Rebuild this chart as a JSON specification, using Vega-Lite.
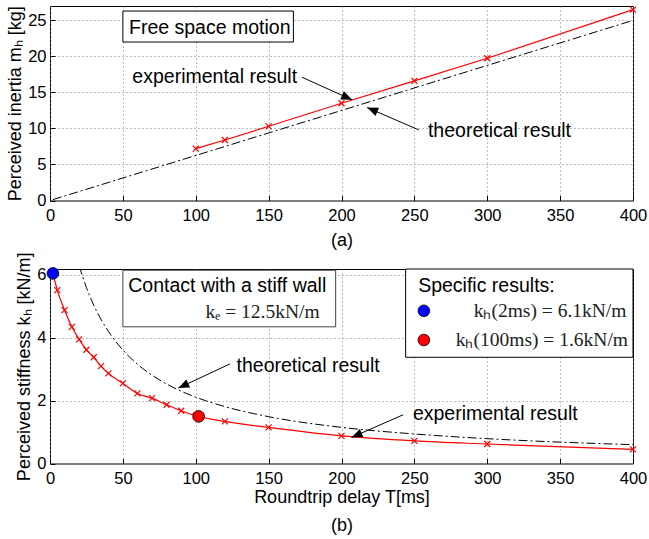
{
  "$schema": "https://vega.github.io/schema/vega-lite/v6.json",
  "background": "white",
  "padding": {"left": 6, "top": 3, "right": 10, "bottom": 4},
  "config": {
    "font": "Liberation Sans",
    "view": {"stroke": "black", "strokeWidth": 1},
    "axis": {
      "domain": false,
      "grid": true,
      "gridColor": "#7a7a7a",
      "gridDash": [1, 3],
      "gridWidth": 1,
      "gridOpacity": 1,
      "ticks": true,
      "tickSize": -5,
      "tickColor": "black",
      "labelFont": "Liberation Sans",
      "labelFontSize": 16.5,
      "labelColor": "black",
      "labelOverlap": false,
      "labelFlush": false,
      "titleFont": "Liberation Sans",
      "titleFontSize": 18,
      "titleFontWeight": "normal",
      "titleColor": "black"
    },
    "axisX": {"labelPadding": 12},
    "axisY": {"labelPadding": 9},
    "concat": {"spacing": 1}
  },
  "datasets": {
    "boxA": [{"x": 50, "x2": 167, "y": 22, "y2": 26.3}],
    "inertiaTheo": [{"x": 2, "y": 0.125}, {"x": 400, "y": 25}],
    "inertiaExp": [
      {"x": 100, "y": 7.2}, {"x": 120, "y": 8.4}, {"x": 150, "y": 10.3},
      {"x": 200, "y": 13.5}, {"x": 250, "y": 16.6}, {"x": 300, "y": 19.75},
      {"x": 400, "y": 26.5}
    ],
    "arrowsA": [
      {"x": 173, "y": 17.1, "x2": 207.3, "y2": 13.97, "a": 114},
      {"x": 253, "y": 9.8, "x2": 217.6, "y2": 12.9, "a": 293}
    ],
    "textA": [
      {"x": 54.2, "y": 23.9, "t": "Free space motion"},
      {"x": 56.5, "y": 17.15, "t": "experimental result"},
      {"x": 259.3, "y": 9.58, "t": "theoretical result"}
    ],
    "boxesB": [
      {"x": 50, "x2": 196, "y": 4.35, "y2": 6.15, "s": "#444444"},
      {"x": 244, "x2": 400, "y": 3.38, "y2": 6.19, "s": "#000000"}
    ],
    "stiffTheo": [
      {"x": 20, "y": 6.29}, {"x": 25, "y": 5.6}, {"x": 30, "y": 5.04},
      {"x": 40, "y": 4.21}, {"x": 50, "y": 3.61}, {"x": 60, "y": 3.16},
      {"x": 70, "y": 2.81}, {"x": 80, "y": 2.53}, {"x": 90, "y": 2.3},
      {"x": 100, "y": 2.11}, {"x": 120, "y": 1.81}, {"x": 150, "y": 1.49},
      {"x": 200, "y": 1.15}, {"x": 250, "y": 0.94}, {"x": 300, "y": 0.79},
      {"x": 350, "y": 0.68}, {"x": 400, "y": 0.6}
    ],
    "stiffExp": [
      {"x": 2, "y": 6.05}, {"x": 5, "y": 5.52}, {"x": 10, "y": 4.88},
      {"x": 15, "y": 4.35}, {"x": 20, "y": 3.95}, {"x": 25, "y": 3.62},
      {"x": 30, "y": 3.38}, {"x": 35, "y": 3.1}, {"x": 40, "y": 2.87},
      {"x": 50, "y": 2.55}, {"x": 60, "y": 2.23}, {"x": 70, "y": 2.08},
      {"x": 80, "y": 1.87}, {"x": 90, "y": 1.68}, {"x": 100, "y": 1.52},
      {"x": 120, "y": 1.34}, {"x": 150, "y": 1.15}, {"x": 200, "y": 0.88},
      {"x": 250, "y": 0.72}, {"x": 300, "y": 0.62}, {"x": 400, "y": 0.45}
    ],
    "dotsB": [
      {"x": 2, "y": 6.05, "c": "#0000ff"},
      {"x": 102, "y": 1.5, "c": "#ff0000"},
      {"x": 256.5, "y": 4.86, "c": "#0000ff"},
      {"x": 256.5, "y": 3.93, "c": "#ff0000"}
    ],
    "arrowsB": [
      {"x": 123.5, "y": 3.17, "x2": 88, "y2": 2.4, "a": 245},
      {"x": 242.3, "y": 1.55, "x2": 206.9, "y2": 0.83, "a": 246}
    ],
    "textB": [
      {"x": 53.7, "y": 5.66, "t": "Contact with a stiff wall"},
      {"x": 128, "y": 3.11, "t": "theoretical result"},
      {"x": 249, "y": 1.59, "t": "experimental result"},
      {"x": 252.6, "y": 5.66, "t": "Specific results:"}
    ],
    "mathB": [
      {"x": 185, "y": 4.81, "t": "kₑ = 12.5kN/m"},
      {"x": 395.5, "y": 4.86, "t": "kₕ(2ms) = 6.1kN/m"},
      {"x": 396.6, "y": 3.93, "t": "kₕ(100ms) = 1.6kN/m"}
    ]
  },
  "vconcat": [
    {
      "width": 583,
      "height": 194.5,
      "layer": [
        {
          "data": {"name": "boxA"},
          "mark": {"type": "rect", "fill": "white", "stroke": "black", "strokeWidth": 1},
          "encoding": {
            "x": {"field": "x", "type": "quantitative",
              "scale": {"domain": [0, 400], "nice": false},
              "axis": {"values": [0, 50, 100, 150, 200, 250, 300, 350, 400], "title": "(a)", "titlePadding": 7}},
            "x2": {"field": "x2"},
            "y": {"field": "y", "type": "quantitative",
              "scale": {"domain": [0, 27], "nice": false},
              "axis": {"values": [0, 5, 10, 15, 20, 25], "labelOverlap": false, "tickCount": 6, "title": "Perceived inertia mₕ [kg]", "titlePadding": 3}},
            "y2": {"field": "y2"}
          }
        },
        {
          "data": {"name": "inertiaTheo"},
          "mark": {"type": "line", "color": "black", "strokeWidth": 1, "strokeDash": [9, 3, 2, 3]},
          "encoding": {
            "x": {"field": "x", "type": "quantitative"},
            "y": {"field": "y", "type": "quantitative"}
          }
        },
        {
          "data": {"name": "inertiaExp"},
          "mark": {"type": "line", "color": "#ff0000", "strokeWidth": 1.2},
          "encoding": {
            "x": {"field": "x", "type": "quantitative"},
            "y": {"field": "y", "type": "quantitative"}
          }
        },
        {
          "data": {"name": "inertiaExp"},
          "mark": {"type": "point", "shape": "M-1,-1L1,1M-1,1L1,-1", "filled": false, "color": "#ff0000", "strokeWidth": 1.2, "size": 36, "opacity": 1},
          "encoding": {
            "x": {"field": "x", "type": "quantitative"},
            "y": {"field": "y", "type": "quantitative"}
          }
        },
        {
          "data": {"name": "arrowsA"},
          "mark": {"type": "rule", "color": "black", "strokeWidth": 1},
          "encoding": {
            "x": {"field": "x", "type": "quantitative"},
            "y": {"field": "y", "type": "quantitative"},
            "x2": {"field": "x2"},
            "y2": {"field": "y2"}
          }
        },
        {
          "data": {"name": "arrowsA"},
          "mark": {"type": "point", "shape": "M0,0L-0.4,1L0.4,1Z", "filled": true, "color": "black", "size": 484, "opacity": 1},
          "encoding": {
            "x": {"field": "x2", "type": "quantitative"},
            "y": {"field": "y2", "type": "quantitative"},
            "angle": {"field": "a", "type": "quantitative", "scale": null}
          }
        },
        {
          "data": {"name": "textA"},
          "mark": {"type": "text", "align": "left", "baseline": "middle", "fontSize": 19.5, "font": "Liberation Sans", "color": "black"},
          "encoding": {
            "x": {"field": "x", "type": "quantitative"},
            "y": {"field": "y", "type": "quantitative"},
            "text": {"field": "t"}
          }
        }
      ]
    },
    {
      "width": 583,
      "height": 194.5,
      "layer": [
        {
          "data": {"name": "stiffTheo"},
          "mark": {"type": "line", "color": "black", "strokeWidth": 1, "strokeDash": [9, 3, 2, 3], "clip": true, "interpolate": "monotone"},
          "encoding": {
            "x": {"field": "x", "type": "quantitative",
              "scale": {"domain": [0, 400], "nice": false},
              "axis": {"values": [0, 50, 100, 150, 200, 250, 300, 350, 400], "title": ["Roundtrip delay T[ms]", "(b)"], "titlePadding": 1, "titleLineHeight": 28}},
            "y": {"field": "y", "type": "quantitative",
              "scale": {"domain": [0, 6.19], "nice": false},
              "axis": {"values": [0, 2, 4, 6], "title": "Perceived stiffness kₕ [kN/m]", "titlePadding": 3}}
          }
        },
        {
          "data": {"name": "stiffExp"},
          "mark": {"type": "line", "color": "#ff0000", "strokeWidth": 1.2, "interpolate": "monotone"},
          "encoding": {
            "x": {"field": "x", "type": "quantitative"},
            "y": {"field": "y", "type": "quantitative"}
          }
        },
        {
          "data": {"name": "stiffExp"},
          "mark": {"type": "point", "shape": "M-1,-1L1,1M-1,1L1,-1", "filled": false, "color": "#ff0000", "strokeWidth": 1.2, "size": 36, "opacity": 1},
          "encoding": {
            "x": {"field": "x", "type": "quantitative"},
            "y": {"field": "y", "type": "quantitative"}
          }
        },
        {
          "data": {"name": "boxesB"},
          "mark": {"type": "rect", "fill": "white", "strokeWidth": 1},
          "encoding": {
            "x": {"field": "x", "type": "quantitative"},
            "x2": {"field": "x2"},
            "y": {"field": "y", "type": "quantitative"},
            "y2": {"field": "y2"},
            "stroke": {"field": "s", "type": "nominal", "scale": null}
          }
        },
        {
          "data": {"name": "dotsB"},
          "mark": {"type": "circle", "size": 137, "stroke": "black", "strokeWidth": 0.8, "opacity": 1},
          "encoding": {
            "x": {"field": "x", "type": "quantitative"},
            "y": {"field": "y", "type": "quantitative"},
            "color": {"field": "c", "type": "nominal", "scale": null}
          }
        },
        {
          "data": {"name": "arrowsB"},
          "mark": {"type": "rule", "color": "black", "strokeWidth": 1},
          "encoding": {
            "x": {"field": "x", "type": "quantitative"},
            "y": {"field": "y", "type": "quantitative"},
            "x2": {"field": "x2"},
            "y2": {"field": "y2"}
          }
        },
        {
          "data": {"name": "arrowsB"},
          "mark": {"type": "point", "shape": "M0,0L-0.4,1L0.4,1Z", "filled": true, "color": "black", "size": 484, "opacity": 1},
          "encoding": {
            "x": {"field": "x2", "type": "quantitative"},
            "y": {"field": "y2", "type": "quantitative"},
            "angle": {"field": "a", "type": "quantitative", "scale": null}
          }
        },
        {
          "data": {"name": "textB"},
          "mark": {"type": "text", "align": "left", "baseline": "middle", "fontSize": 19.5, "font": "Liberation Sans", "color": "black"},
          "encoding": {
            "x": {"field": "x", "type": "quantitative"},
            "y": {"field": "y", "type": "quantitative"},
            "text": {"field": "t"}
          }
        },
        {
          "data": {"name": "mathB"},
          "mark": {"type": "text", "align": "right", "baseline": "middle", "fontSize": 19.5, "font": "Liberation Serif", "color": "#222222"},
          "encoding": {
            "x": {"field": "x", "type": "quantitative"},
            "y": {"field": "y", "type": "quantitative"},
            "text": {"field": "t"}
          }
        }
      ]
    }
  ]
}
